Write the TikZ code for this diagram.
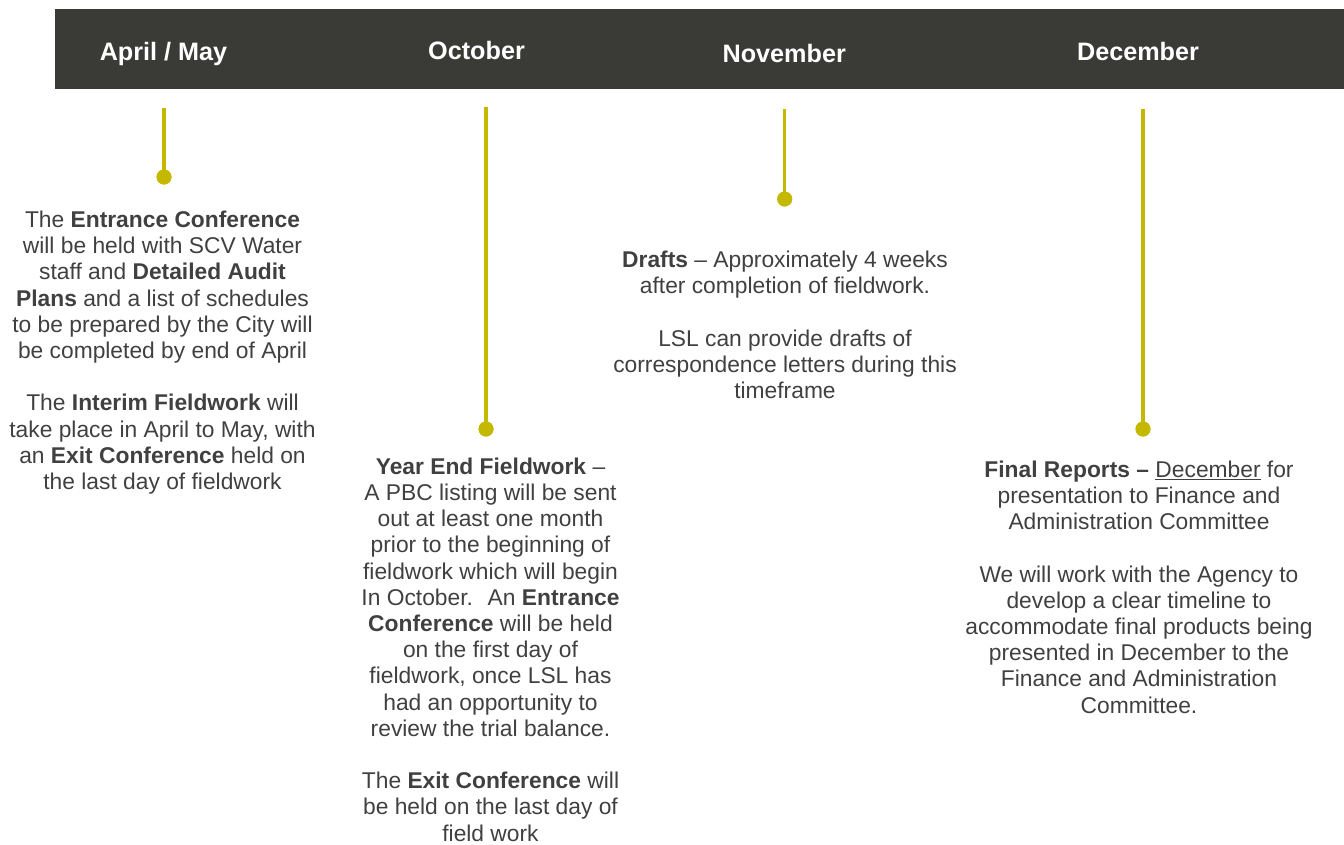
\documentclass[tikz,border=0pt]{standalone}
\usepackage{fontspec}
\setmainfont{Liberation Sans}
\definecolor{barcol}{RGB}{58,59,55}
\definecolor{stemcol}{RGB}{196,184,0}
\definecolor{txtcol}{RGB}{64,64,64}
\newcommand\bodysize{\fontsize{22.8}{26.2}\selectfont}
\newcommand\headsize{\fontsize{25.2}{30}\selectfont\bfseries}
\begin{document}
\begin{tikzpicture}[x=1pt,y=-1pt,
  headbar/.style={fill=barcol,draw=none},
  month/.style={anchor=base,text=white,font=\headsize,inner sep=0pt},
  stemline/.style={draw=stemcol,line width=3.3pt},
  stemdot/.style={circle,fill=stemcol,draw=none,minimum size=15pt,inner sep=0pt},
  blurb/.style={anchor=north,align=center,text=txtcol,font=\bodysize,inner sep=0pt}]
\useasboundingbox (0,0) rectangle (1344,844);

% header band with the month names
\path[headbar] (55,9) rectangle (1344,88.7);
\node[month] (m1) at (163.5,60) {April / May};
\node[month] (m2) at (476.5,59) {October};
\node[month] (m3) at (784.2,62.7) {November};
\node[month] (m4) at (1138,60.7) {December};

% stems ending in dots
\coordinate (t1) at (164,108);
\coordinate (t2) at (486,107);
\coordinate (t3) at (784.7,109);
\coordinate (t4) at (1143,109);
\node[stemdot] (d1) at (164,177) {};
\node[stemdot] (d2) at (486,429) {};
\node[stemdot] (d3) at (784.7,199) {};
\node[stemdot] (d4) at (1143,429) {};
\draw[stemline] (t1) -- (d1.center);
\draw[stemline] (t2) -- (d2.center);
\draw[stemline] (t3) -- (d3.center);
\draw[stemline] (t4) -- (d4.center);
\node[stemdot] at (d1) {};
\node[stemdot] at (d2) {};
\node[stemdot] at (d3) {};
\node[stemdot] at (d4) {};

% descriptions (first baseline minus strut height)
\node[blurb] (b1) at (162.5,208.9) {\strut The \textbf{Entrance Conference}\\
will be held with SCV Water\\
staff and \textbf{Detailed Audit}\\
\textbf{Plans} and a list of schedules\\
to be prepared by the City will\\
be completed by end of April\\[26.2pt]
The \textbf{Interim Fieldwork} will\\
take place in April to May, with\\
an \textbf{Exit Conference} held on\\
the last day of fieldwork};

\node[blurb] (b2) at (490.5,455.7) {\strut\textbf{Year End Fieldwork} –\\
A PBC listing will be sent\\
out at least one month\\
prior to the beginning of\\
fieldwork which will begin\\
In October.~ An \textbf{Entrance}\\
\textbf{Conference} will be held\\
on the first day of\\
fieldwork, once LSL has\\
had an opportunity to\\
review the trial balance.\\[26.2pt]
The \textbf{Exit Conference} will\\
be held on the last day of\\
field work};

\node[blurb] (b3) at (785,249) {\strut\textbf{Drafts} – Approximately 4 weeks\\
after completion of fieldwork.\\[26.2pt]
LSL can provide drafts of\\
correspondence letters during this\\
timeframe};

\node[blurb] (b4) at (1139,458.7) {\strut\textbf{Final Reports –} \underline{December} for\\
presentation to Finance and\\
Administration Committee\\[26.2pt]
We will work with the Agency to\\
develop a clear timeline to\\
accommodate final products being\\
presented in December to the\\
Finance and Administration\\
Committee.};
\end{tikzpicture}
\end{document}
